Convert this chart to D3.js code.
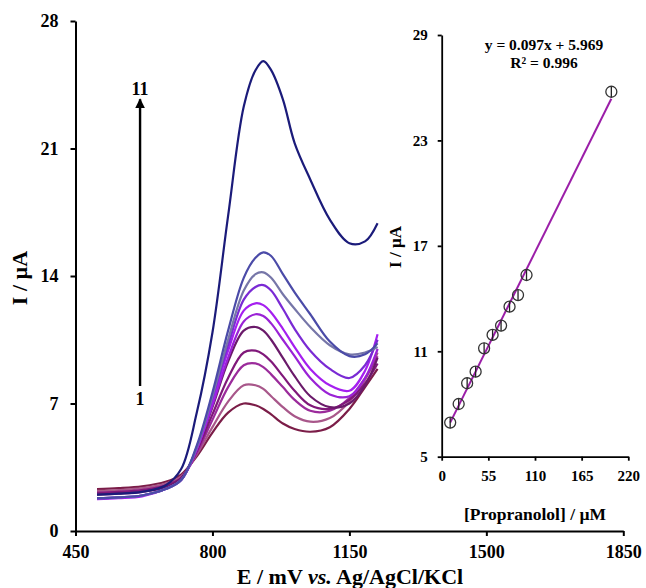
<!DOCTYPE html>
<html>
<head>
<meta charset="utf-8">
<script src="https://cdn.jsdelivr.net/npm/d3@7"></script>
<style>
  body { margin: 0; background: #fff; }
  svg text { font-family: "Liberation Serif", "Times New Roman", serif; font-weight: bold; fill: #000; }
  .axis path, .axis line { stroke: #000; stroke-width: 2; }
  .inset path, .inset line { stroke-width: 1.8; }
</style>
</head>
<body>
<div id="chart"></div>
<script>
// potential grid (mV) shared by every voltammogram
var potential = [505, 560, 620, 680, 720, 760, 800, 840, 880, 910, 930, 950, 980, 1010, 1050, 1100, 1150, 1190, 1222]

// current (uA) of curves 1..11
var curve1  = [2.3, 2.35, 2.45, 2.7, 3.1, 4.1, 5.4, 6.5, 7.0, 6.9, 6.7, 6.4, 5.9, 5.6, 5.45, 5.7, 6.7, 7.9, 8.9]
var curve2  = [2.2, 2.25, 2.35, 2.6, 3.0, 4.2, 5.7, 7.1, 8.0, 8.0, 7.8, 7.4, 6.8, 6.3, 6.0, 6.2, 7.1, 8.3, 9.8]
var curve3  = [2.1, 2.15, 2.25, 2.5, 2.9, 4.3, 6.1, 7.9, 9.1, 9.2, 9.0, 8.6, 7.9, 7.2, 6.6, 6.6, 7.3, 8.4, 9.6]
var curve4  = [2.1, 2.15, 2.25, 2.5, 2.9, 4.4, 6.4, 8.4, 9.8, 9.9, 9.7, 9.3, 8.5, 7.7, 6.9, 6.7, 7.2, 8.1, 9.2]
var curve5  = [2.0, 2.05, 2.15, 2.4, 2.9, 4.5, 6.8, 9.3, 11.0, 11.2, 11.0, 10.5, 9.5, 8.5, 7.4, 6.8, 7.0, 8.0, 9.5]
var curve6  = [1.8, 1.85, 1.95, 2.3, 2.8, 4.5, 6.9, 9.5, 11.5, 11.9, 11.8, 11.4, 10.5, 9.6, 8.4, 7.5, 7.4, 8.4, 10.0]
var curve7  = [1.75, 1.8, 1.9, 2.3, 2.8, 4.5, 7.1, 9.9, 12.1, 12.5, 12.4, 12.0, 11.1, 10.1, 8.9, 8.0, 7.7, 8.8, 10.8]
var curve8  = [1.8, 1.85, 1.95, 2.3, 2.8, 4.6, 7.3, 10.2, 12.7, 13.4, 13.5, 13.2, 12.2, 11.1, 9.9, 8.9, 8.4, 9.1, 10.5]
var curve9  = [1.8, 1.85, 1.95, 2.3, 2.8, 4.6, 7.4, 10.5, 13.2, 14.1, 14.2, 13.9, 13.0, 12.2, 11.2, 10.2, 9.7, 9.8, 10.1]
var curve10 = [1.8, 1.85, 1.95, 2.3, 2.8, 4.7, 7.6, 11.0, 13.9, 15.0, 15.3, 15.1, 14.1, 13.1, 11.9, 10.4, 9.6, 9.7, 10.3]
var curve11 = [2.0, 2.05, 2.15, 2.5, 3.4, 6.5, 10.9, 17.3, 23.3, 25.3, 25.8, 25.3, 23.7, 21.3, 19.3, 17.1, 15.8, 15.9, 16.9]

var curves = [curve1, curve2, curve3, curve4, curve5, curve6, curve7, curve8, curve9, curve10, curve11]
var curveColors = ["#7b1d48", "#a8578a", "#9b2b9b", "#80187a", "#6a1a6a", "#9a22d6", "#a51ff0", "#7a2ad4", "#7676a8", "#4b4ba8", "#1b1b7a"]

var xTicks = [450, 800, 1150, 1500, 1850]
var yTicks = [0, 7, 14, 21, 28]

// arrow annotation, in data units
var arrowE = 615
var arrowFrom = 7.96
var arrowTo = 23.7

// inset calibration data
var conc = [10, 20, 30, 40, 50, 60, 70, 80, 90, 100, 200]
var peakI = [6.94, 8.0, 9.18, 9.84, 11.17, 11.93, 12.46, 13.54, 14.2, 15.34, 25.77]
var errI = [0.32, 0.32, 0.32, 0.32, 0.32, 0.32, 0.32, 0.32, 0.32, 0.32, 0.32]
var slope = 0.097
var intercept = 5.969
var insetXTicks = [0, 55, 110, 165, 220]
var insetYTicks = [5, 11, 17, 23, 29]

var svg = d3.select("#chart").append("svg")
  .attr("width", 646)
  .attr("height", 588)

var xScale = d3.scaleLinear().domain([450, 1850]).range([75.5, 623.3])
var yScale = d3.scaleLinear().domain([0, 28]).range([531, 21])

var line = d3.line()
  .x(function(d, i) { return xScale(potential[i]) })
  .y(function(d) { return yScale(d) })
  .curve(d3.curveCatmullRom.alpha(0.5))

curves.forEach(function(c, k) {
  svg.append("path")
    .datum(c)
    .attr("fill", "none")
    .attr("stroke", curveColors[k])
    .attr("stroke-width", 2.2)
    .attr("d", line)
})

// main axes
var xAxis = svg.append("g")
  .attr("class", "axis")
  .attr("transform", "translate(0,531)")
  .call(d3.axisBottom(xScale).tickValues(xTicks).tickFormat(d3.format("d")).tickSize(5).tickSizeOuter(0).tickPadding(9))
xAxis.selectAll("text").attr("font-size", 18)

var yAxis = svg.append("g")
  .attr("class", "axis")
  .attr("transform", "translate(75.5,0)")
  .call(d3.axisLeft(yScale).tickValues(yTicks).tickFormat(d3.format("d")).tickSize(5).tickSizeOuter(0).tickPadding(12))
yAxis.selectAll("text").attr("font-size", 18)

svg.append("text")
  .attr("x", 350)
  .attr("y", 584)
  .attr("text-anchor", "middle")
  .attr("font-size", 22)
  .html('E / mV <tspan font-style="italic">vs.</tspan> Ag/AgCl/KCl')

svg.append("text")
  .attr("transform", "translate(27,278) rotate(-90)")
  .attr("text-anchor", "middle")
  .attr("font-size", 22)
  .text("I / µA")

// arrow 1 -> 11
svg.append("defs").append("marker")
  .attr("id", "head")
  .attr("viewBox", "0 0 10 10")
  .attr("refX", 9).attr("refY", 5)
  .attr("markerWidth", 4).attr("markerHeight", 4)
  .attr("orient", "auto")
  .append("path")
  .attr("d", "M0,0L10,5L0,10z")
  .attr("fill", "#000")

svg.append("line")
  .attr("x1", xScale(arrowE)).attr("x2", xScale(arrowE))
  .attr("y1", yScale(arrowFrom)).attr("y2", yScale(arrowTo))
  .attr("stroke", "#000")
  .attr("stroke-width", 2.4)
  .attr("marker-end", "url(#head)")

svg.append("text")
  .attr("x", xScale(arrowE)).attr("y", yScale(arrowTo) - 4)
  .attr("text-anchor", "middle").attr("font-size", 18)
  .text("11")

svg.append("text")
  .attr("x", xScale(arrowE)).attr("y", yScale(arrowFrom) + 19)
  .attr("text-anchor", "middle").attr("font-size", 18)
  .text("1")

// inset
var ix = d3.scaleLinear().domain([0, 220]).range([441.7, 628.3])
var iy = d3.scaleLinear().domain([5, 29]).range([456.7, 35])

var ixAxis = svg.append("g")
  .attr("class", "axis inset")
  .attr("transform", "translate(0,456.7)")
  .call(d3.axisBottom(ix).tickValues(insetXTicks).tickFormat(d3.format("d")).tickSize(4).tickSizeOuter(0).tickPadding(10))
ixAxis.selectAll("text").attr("font-size", 15)

var iyAxis = svg.append("g")
  .attr("class", "axis inset")
  .attr("transform", "translate(441.7,0)")
  .call(d3.axisLeft(iy).tickValues(insetYTicks).tickFormat(d3.format("d")).tickSize(4).tickSizeOuter(0).tickPadding(10))
iyAxis.selectAll("text").attr("font-size", 15)

svg.append("line")
  .attr("x1", ix(conc[0])).attr("y1", iy(slope * conc[0] + intercept))
  .attr("x2", ix(conc[conc.length - 1])).attr("y2", iy(slope * conc[conc.length - 1] + intercept))
  .attr("stroke", "#9b1ea8")
  .attr("stroke-width", 2)

svg.selectAll(".err")
  .data(conc)
  .enter().append("line")
  .attr("class", "err")
  .attr("x1", function(d) { return ix(d) })
  .attr("x2", function(d) { return ix(d) })
  .attr("y1", function(d, i) { return iy(peakI[i] - errI[i]) })
  .attr("y2", function(d, i) { return iy(peakI[i] + errI[i]) })
  .attr("stroke", "#222")
  .attr("stroke-width", 1.3)

svg.selectAll(".dot")
  .data(conc)
  .enter().append("circle")
  .attr("class", "dot")
  .attr("cx", function(d) { return ix(d) })
  .attr("cy", function(d, i) { return iy(peakI[i]) })
  .attr("r", 5.5)
  .attr("fill", "none")
  .attr("stroke", "#333")
  .attr("stroke-width", 1.3)

svg.append("text")
  .attr("x", 544).attr("y", 50)
  .attr("text-anchor", "middle").attr("font-size", 15.5)
  .text("y = " + slope + "x + " + intercept)

svg.append("text")
  .attr("x", 544).attr("y", 68)
  .attr("text-anchor", "middle").attr("font-size", 15.5)
  .text("R² = 0.996")

svg.append("text")
  .attr("x", 535).attr("y", 520)
  .attr("text-anchor", "middle").attr("font-size", 17.5)
  .text("[Propranolol] / µM")

svg.append("text")
  .attr("transform", "translate(401,247) rotate(-90)")
  .attr("text-anchor", "middle")
  .attr("font-size", 17)
  .text("I / µA")
</script>
</body>
</html>
